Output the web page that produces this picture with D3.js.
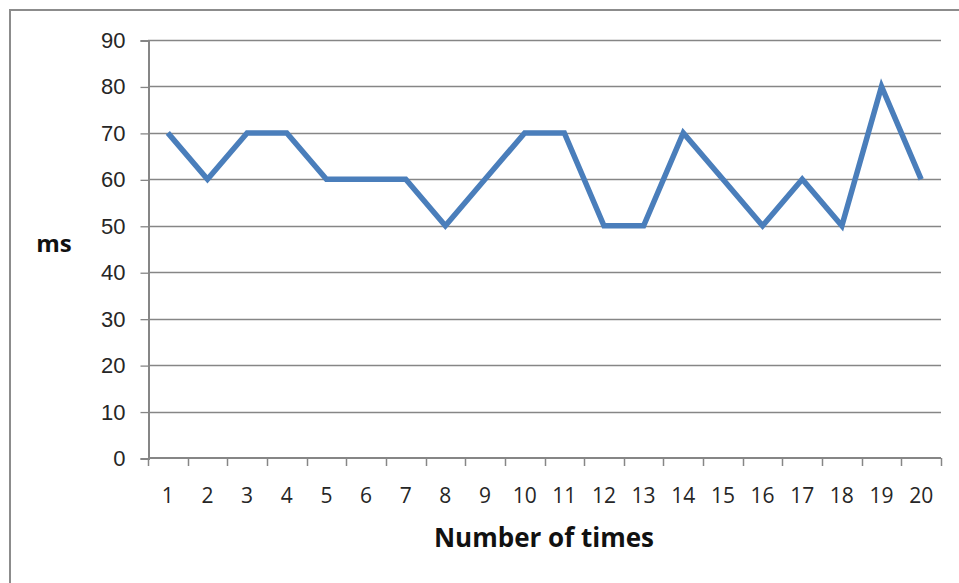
<!DOCTYPE html>
<html lang="en">
<head>
    <meta charset="UTF-8">
    <title>Line chart ms per run</title>
    <script src="https://d3js.org/d3.v7.min.js"></script>
    <style>
        body { margin: 0; background: #fff; }
        svg { display: block; font-family: 'Open Sans', 'DejaVu Sans', sans-serif; }
    </style>
</head>
<body>
    <div id="chart"></div>
    <script>
        // data
        var runs = d3.range(1, 21).map(String);
        var msValues = [70, 60, 70, 70, 60, 60, 60, 50, 60, 70, 70, 50, 50, 70, 60, 50, 60, 50, 80, 60];
        var yTicks = [0, 10, 20, 30, 40, 50, 60, 70, 80, 90];

        var svgwidth = 959;
        var svgheight = 583;
        var plot = { left: 148, right: 941, top: 40, bottom: 458 };

        var svg = d3.select('#chart')
            .append('svg')
            .attr('width', svgwidth)
            .attr('height', svgheight);

        // outer chart border
        svg.append('rect')
            .attr('x', 10)
            .attr('y', 10)
            .attr('width', 980)
            .attr('height', 600)
            .attr('fill', 'none')
            .attr('stroke', '#8c8c8c')
            .attr('stroke-width', 2);

        var x_scale = d3.scaleBand()
            .domain(runs)
            .range([plot.left, plot.right]);

        var y_scale = d3.scaleLinear()
            .domain([0, 90])
            .range([plot.bottom, plot.top]);

        // gridlines
        svg.append('g')
            .selectAll('line')
            .data(yTicks.filter(d => d > 0))
            .enter()
            .append('line')
            .attr('x1', plot.left)
            .attr('x2', plot.right)
            .attr('y1', d => Math.round(y_scale(d)) + 0.5)
            .attr('y2', d => Math.round(y_scale(d)) + 0.5)
            .attr('stroke', '#868686')
            .attr('stroke-width', 1.3);

        // y axis
        var yAxis = svg.append('g')
            .attr('transform', `translate(${plot.left + 0.5}, 0.5)`)
            .call(d3.axisLeft(y_scale).tickValues(yTicks).tickSize(8).tickPadding(15));
        yAxis.select('.domain').attr('stroke', '#868686').attr('stroke-width', 2);
        yAxis.selectAll('.tick line').attr('stroke', '#868686').attr('stroke-width', 1.3);
        yAxis.selectAll('.tick text')
            .attr('fill', '#262626')
            .style('font-size', '22px');

        // x axis, ticks between categories
        var xAxis = svg.append('g')
            .attr('transform', `translate(0, ${plot.bottom})`);
        xAxis.append('line')
            .attr('x1', plot.left)
            .attr('x2', plot.right)
            .attr('y1', 0)
            .attr('y2', 0)
            .attr('stroke', '#868686')
            .attr('stroke-width', 2);
        xAxis.selectAll('.sep')
            .data(runs.concat(['end']))
            .enter()
            .append('line')
            .attr('class', 'sep')
            .attr('x1', (d, i) => Math.round(plot.left + i * x_scale.bandwidth()) + 0.5)
            .attr('x2', (d, i) => Math.round(plot.left + i * x_scale.bandwidth()) + 0.5)
            .attr('y1', 0)
            .attr('y2', 8)
            .attr('stroke', '#868686')
            .attr('stroke-width', 1.5);
        xAxis.selectAll('.lbl')
            .data(runs)
            .enter()
            .append('text')
            .attr('class', 'lbl')
            .attr('x', d => x_scale(d) + x_scale.bandwidth() / 2)
            .attr('y', 45)
            .attr('text-anchor', 'middle')
            .attr('fill', '#262626')
            .style('font-size', '21px')
            .text(d => d);

        // the series
        var line = d3.line()
            .x((d, i) => x_scale(runs[i]) + x_scale.bandwidth() / 2)
            .y(d => y_scale(d));

        svg.append('path')
            .datum(msValues)
            .attr('d', line)
            .attr('fill', 'none')
            .attr('stroke', '#4a7ebb')
            .attr('stroke-width', 5.5)
            .attr('stroke-linejoin', 'miter');

        // axis titles
        svg.append('text')
            .attr('x', 54)
            .attr('y', 252)
            .attr('text-anchor', 'middle')
            .style('font-size', '24px')
            .style('font-weight', 'bold')
            .attr('fill', '#111')
            .text('ms');

        svg.append('text')
            .attr('x', 544)
            .attr('y', 547)
            .attr('text-anchor', 'middle')
            .style('font-size', '26px')
            .style('font-weight', 'bold')
            .attr('fill', '#111')
            .text('Number of times');
    </script>
</body>
</html>
